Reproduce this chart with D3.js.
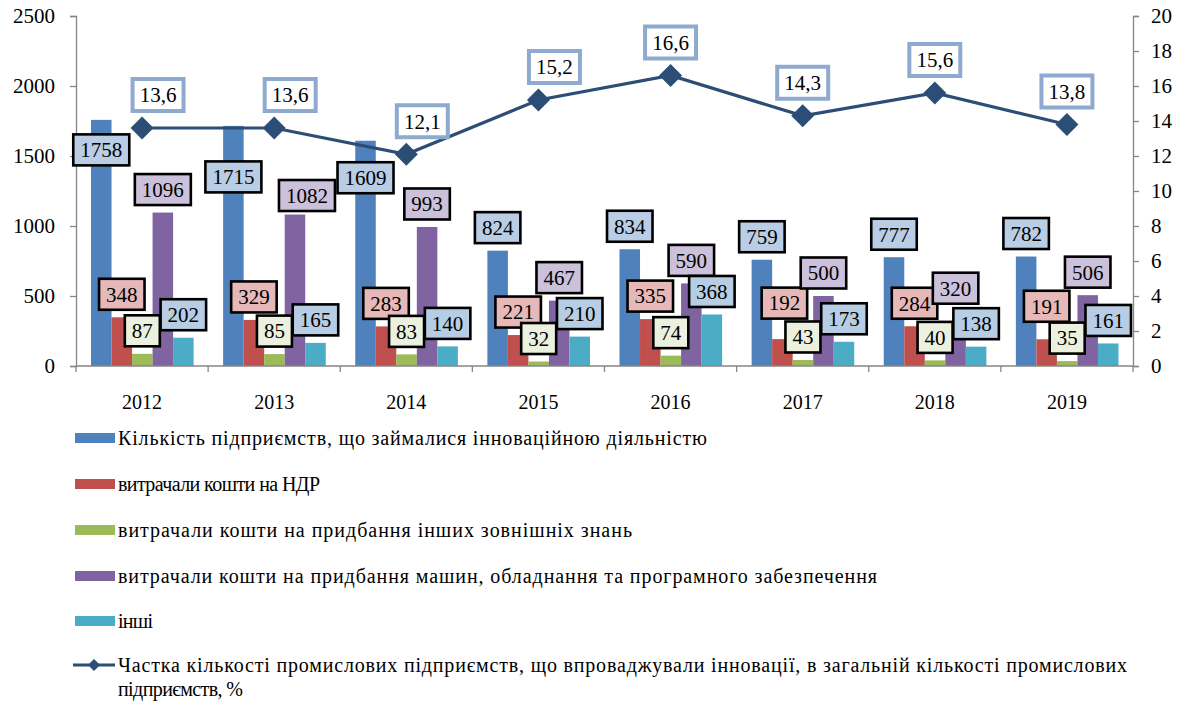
<!DOCTYPE html>
<html>
<head>
<meta charset="utf-8">
<script src="https://cdn.jsdelivr.net/npm/d3@7"></script>
<style>
  body { margin: 0; background: #fff; }
  svg { display: block; }
</style>
</head>
<body>
<div id="chart"></div>
<script>
var years = ['2012', '2013', '2014', '2015', '2016', '2017', '2018', '2019'];
var enterprises = [1758, 1715, 1609, 824, 834, 759, 777, 782];
var rdSpend = [348, 329, 283, 221, 335, 192, 284, 191];
var knowledgeSpend = [87, 85, 83, 32, 74, 43, 40, 35];
var machinerySpend = [1096, 1082, 993, 467, 590, 500, 320, 506];
var otherSpend = [202, 165, 140, 210, 368, 173, 138, 161];
var innovShare = [13.6, 13.6, 12.1, 15.2, 16.6, 14.3, 15.6, 13.8];
var leftTicks = [0, 500, 1000, 1500, 2000, 2500];
var rightTicks = [0, 2, 4, 6, 8, 10, 12, 14, 16, 18, 20];

var seriesNames = [
  'Кількість підприємств, що займалися інноваційною діяльністю',
  'витрачали кошти на НДР',
  'витрачали кошти на придбання інших зовнішніх знань',
  'витрачали кошти на придбання машин, обладнання та програмного забезпечення',
  'інші'
];
var lineName = ['Частка кількості промислових підприємств, що впроваджували інновації, в загальній кількості промислових', 'підприємств, %'];

var barSeries = [enterprises, rdSpend, knowledgeSpend, machinerySpend, otherSpend];
var barColors = ['#4f81bd', '#c0504d', '#9bbb59', '#8064a2', '#4bacc6'];
var labelFills = ['#b9cde5', '#e6b9b8', '#ebf1de', '#ccc1da', '#b7cde4'];

// hand-moved labels in the original (series|year -> dx, dy)
var labelNudge = {
  '0|2012': [0, 53], '0|2013': [0, 74], '0|2014': [0, 60],
  '3|2013': [12, 4], '1|2017': [2, -13], '3|2018': [0, -10], '1|2019': [0, -10]
};

var FONT = "'Liberation Serif', 'Times New Roman', 'DejaVu Serif', serif";
var W = 1184, H = 705;
var svg = d3.select('#chart').append('svg').attr('width', W).attr('height', H)
  .style('font-family', FONT);
svg.append('rect').attr('width', W).attr('height', H).attr('fill', '#fff');

var plotLeft = 76, plotRight = 1133, plotTop = 16, plotBottom = 366;

var x0 = d3.scaleBand().domain(years).range([plotLeft, plotRight]).padding(0);
var x1 = d3.scaleBand().domain(d3.range(5)).range([15, x0.bandwidth() - 14.5]).padding(0);
var y = d3.scaleLinear().domain([0, 2500]).range([plotBottom, plotTop]);
var y2 = d3.scaleLinear().domain([0, 20]).range([plotBottom, plotTop]);

var axisColor = '#868686';

// left axis
var gl = svg.append('g').attr('transform', 'translate(' + plotLeft + ',0)')
  .call(d3.axisLeft(y).tickValues(leftTicks).tickSize(6).tickPadding(15).tickFormat(d3.format('d')));
// right axis
var gr = svg.append('g').attr('transform', 'translate(' + plotRight + ',0)')
  .call(d3.axisRight(y2).tickValues(rightTicks).tickSize(6).tickPadding(12).tickFormat(d3.format('d')));
[gl, gr].forEach(function (g) {
  g.attr('font-family', null).attr('font-size', 21);
  g.select('.domain').attr('stroke', axisColor).attr('stroke-width', 1.3);
  g.selectAll('.tick line').attr('stroke', axisColor).attr('stroke-width', 1.3);
  g.selectAll('.tick text').attr('fill', '#000');
});

// bars
years.forEach(function (yr, i) {
  var g = svg.append('g').attr('transform', 'translate(' + x0(yr) + ',0)');
  g.selectAll('rect').data(barSeries.map(function (s, j) { return { j: j, v: s[i] }; }))
    .enter().append('rect')
    .attr('x', function (d) { return x1(d.j); })
    .attr('width', x1.bandwidth())
    .attr('y', function (d) { return y(d.v); })
    .attr('height', function (d) { return plotBottom - y(d.v); })
    .attr('fill', function (d) { return barColors[d.j]; });
});

// x axis
svg.append('line').attr('x1', plotLeft).attr('x2', plotRight).attr('y1', plotBottom).attr('y2', plotBottom)
  .attr('stroke', axisColor).attr('stroke-width', 1.3);
svg.selectAll('.xtick').data(years.concat(['end'])).enter().append('line')
  .attr('x1', function (d) { return d === 'end' ? plotRight : x0(d); })
  .attr('x2', function (d) { return d === 'end' ? plotRight : x0(d); })
  .attr('y1', plotBottom).attr('y2', plotBottom + 6)
  .attr('stroke', axisColor).attr('stroke-width', 1.3);
svg.selectAll('.xlab').data(years).enter().append('text')
  .attr('x', function (d) { return x0(d) + x0.bandwidth() / 2; })
  .attr('y', 409).attr('text-anchor', 'middle').attr('font-size', 20)
  .text(function (d) { return d; });

// bar labels
barSeries.forEach(function (s, j) {
  s.forEach(function (v, i) {
    var nudge = labelNudge[j + '|' + years[i]] || [0, 0];
    var cx = x0(years[i]) + x1(j) + x1.bandwidth() / 2 + nudge[0];
    var cy = y(v) - 23 + nudge[1];
    var g = svg.append('g');
    var r = g.append('rect');
    var t = g.append('text').attr('x', cx).attr('y', cy).attr('dy', '0.35em')
      .attr('text-anchor', 'middle').attr('font-size', 21).text(v);
    var w = t.node().getComputedTextLength() + 14;
    r.attr('x', cx - w / 2).attr('y', cy - 15.5).attr('width', w).attr('height', 31)
      .attr('fill', labelFills[j]).attr('stroke', '#000').attr('stroke-width', 2.6);
  });
});

// line
var lx = function (d, i) { return x0(years[i]) + x0.bandwidth() / 2; };
svg.append('path').datum(innovShare)
  .attr('d', d3.line().x(lx).y(function (d) { return y2(d); }))
  .attr('fill', 'none').attr('stroke', '#2c4d75').attr('stroke-width', 3.2);
svg.selectAll('.marker').data(innovShare).enter().append('path')
  .attr('transform', function (d, i) { return 'translate(' + lx(d, i) + ',' + y2(d) + ')'; })
  .attr('d', 'M0,-11.5L11.5,0L0,11.5L-11.5,0Z').attr('fill', '#2c4d75');

// line labels
innovShare.forEach(function (v, i) {
  var cx = lx(v, i) + (i < 4 ? 16 : 0);
  var cy = y2(v) - 33;
  svg.append('rect').attr('x', cx - 25.5).attr('y', cy - 16).attr('width', 51).attr('height', 32)
    .attr('fill', '#fff').attr('stroke', '#8eaacf').attr('stroke-width', 4);
  svg.append('text').attr('x', cx).attr('y', cy).attr('dy', '0.35em').attr('text-anchor', 'middle')
    .attr('font-size', 21).text(v.toFixed(1).replace('.', ','));
});

// legend
var legendBase = [445, 491, 537, 583, 628];
var legendEnds = [707, 320, 632, 877, 153];
seriesNames.forEach(function (name, j) {
  svg.append('rect').attr('x', 75).attr('y', legendBase[j] - 12).attr('width', 40).attr('height', 10)
    .attr('fill', barColors[j]);
  svg.append('text').attr('x', 118).attr('y', legendBase[j]).attr('font-size', 20)
    .attr('textLength', legendEnds[j] - 118).attr('lengthAdjust', 'spacing').text(name);
});
svg.append('line').attr('x1', 73).attr('x2', 115).attr('y1', 665).attr('y2', 665)
  .attr('stroke', '#2c4d75').attr('stroke-width', 3.2);
svg.append('path').attr('transform', 'translate(94,665)').attr('d', 'M0,-6L6,0L0,6L-6,0Z').attr('fill', '#2c4d75');
svg.append('text').attr('x', 118).attr('y', 672).attr('font-size', 20)
  .attr('textLength', 1127 - 118).attr('lengthAdjust', 'spacing').text(lineName[0]);
svg.append('text').attr('x', 118).attr('y', 696).attr('font-size', 20)
  .attr('textLength', 243 - 118).attr('lengthAdjust', 'spacing').text(lineName[1]);
</script>
</body>
</html>
